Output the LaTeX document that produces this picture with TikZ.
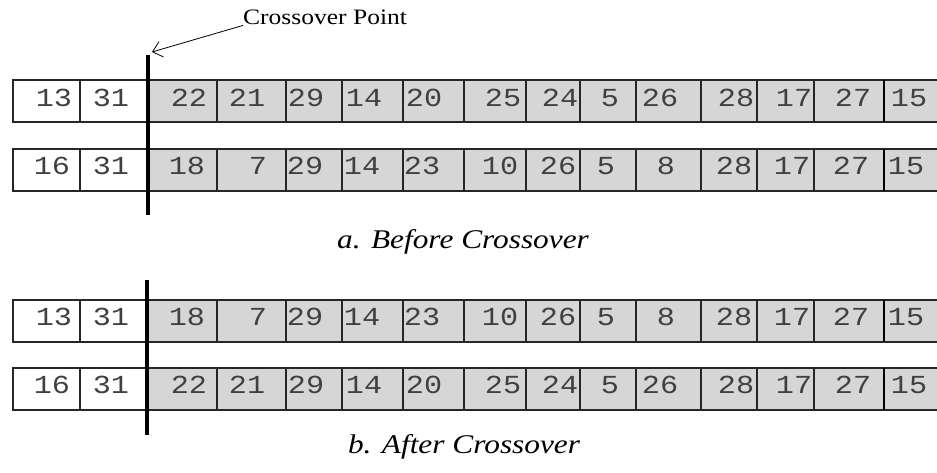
\documentclass[tikz,border=0pt]{standalone}
\usepackage{fontspec}
\setmainfont{Liberation Serif}
\newfontfamily\genefont{Liberation Mono}
\usetikzlibrary{arrows.meta}

\definecolor{genegray}{gray}{0.84}
\newcommand{\wider}[1]{\scalebox{1.16}[1]{#1}}

\tikzset{
  gene/.style={inner sep=0pt, text=black!75, font=\genefont\fontsize{26}{26}\selectfont},
  caption/.style={inner sep=0pt, anchor=base, font=\itshape\fontsize{27}{27}\selectfont},
  cellline/.style={line width=1.1pt, black!85},
  cutbar/.style={line width=4pt},
}

\begin{document}
\begin{tikzpicture}[x=1pt, y=-1pt, >=Stealth]
        \useasboundingbox (0,0) rectangle (937,473);
        % the four chromosomes
        \foreach \top in {80,149,300,368} {
          \fill[white] (13,\top) rectangle (148,\top+42);
          \fill[genegray] (148,\top) rectangle (937,\top+42);
          \draw[cellline] (937,\top) -- (13,\top) -- (13,\top+42) -- (937,\top+42);
          \foreach \b in {80,217,286,342,403,464,526,580,636,701,757,814}
            \draw[cellline] (\b,\top) -- (\b,\top+42);
          \draw[line width=2pt] (884,\top) -- (884,\top+42);
        }
        % genes, before crossover
        \foreach \x/\v [count=\i] in {54/13,111/31,189/22,247/21,306/29,364/14,424/20,503/25,560/24,610/5,660/26,736/28,794/17,853/27,909/15}
          \node[gene] (pa\i) at (\x,98) {\wider{\v}};
        \foreach \x/\v [count=\i] in {52/16,111/31,187/18,258/7,305/29,362/14,422/23,500/10,558/26,606/5,666/8,734/28,792/17,851/27,906/15}
          \node[gene] (pb\i) at (\x,166) {\wider{\v}};
        % genes, after crossover
        \foreach \x/\v [count=\i] in {54/13,111/31,187/18,258/7,305/29,362/14,422/23,500/10,558/26,606/5,666/8,734/28,792/17,851/27,906/15}
          \node[gene] (ca\i) at (\x,317) {\wider{\v}};
        \foreach \x/\v [count=\i] in {52/16,111/31,189/22,247/21,306/29,364/14,424/20,503/25,560/24,610/5,660/26,736/28,794/17,853/27,909/15}
          \node[gene] (cb\i) at (\x,385) {\wider{\v}};
        % crossover points
        \coordinate (cutAtop) at (148,55);
        \coordinate (cutAbot) at (148,215);
        \coordinate (cutBtop) at (147,280);
        \coordinate (cutBbot) at (147,435);
        \draw[cutbar] (cutAtop) -- (cutAbot);
        \draw[cutbar] (cutBtop) -- (cutBbot);
        \node[anchor=base west, inner sep=0pt, font=\fontsize{22}{22}\selectfont] (cplabel) at (243,25) {\wider{Crossover Point}};
        \coordinate (cutpoint) at (152,52);
        \draw[-{Straight Barb[length=9pt,width=16pt]}, line width=0.8pt] (cplabel.south west) -- (cutpoint);
        % captions
        \node[caption] (capA) at (463,248) {\wider{a. Before Crossover}};
        \node[caption] (capB) at (464,453) {\wider{b. After Crossover}};
      \end{tikzpicture}
\end{document}
